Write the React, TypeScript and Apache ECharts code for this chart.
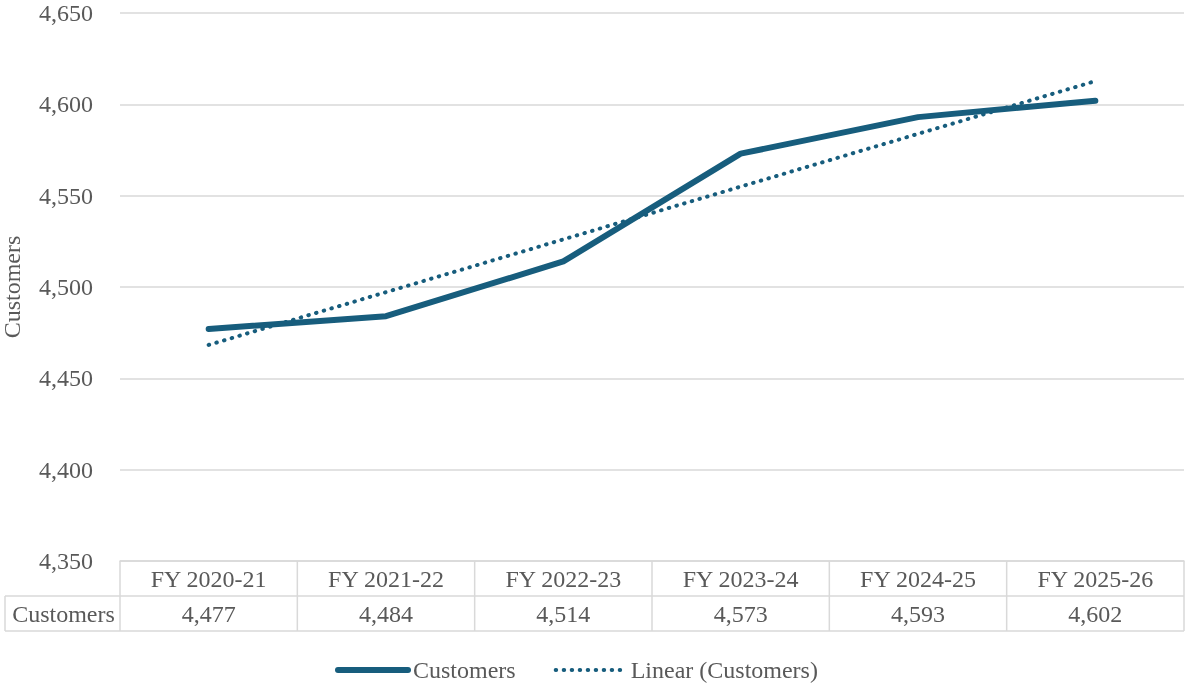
import React, { useEffect, useRef } from "react";
import * as echarts from "echarts";

const categories = ["FY 2020-21", "FY 2021-22", "FY 2022-23", "FY 2023-24", "FY 2024-25", "FY 2025-26"];
const customers = [4477, 4484, 4514, 4573, 4593, 4602];
const seriesName = "Customers";
const trendName = "Linear (Customers)";
const yMin = 4350;
const yMax = 4650;
const yStep = 50;

function linearTrend(vals: number[]): number[] {
  const n = vals.length;
  const mx = (n - 1) / 2;
  const my = vals.reduce((a, b) => a + b, 0) / n;
  let sxy = 0, sxx = 0;
  vals.forEach((v, i) => { sxy += (i - mx) * (v - my); sxx += (i - mx) * (i - mx); });
  const slope = sxy / sxx;
  return vals.map((_, i) => +(my + slope * (i - mx)).toFixed(2));
}

const fmt = (v: number) => v.toLocaleString("en-US");

const W = 1185, H = 686;
const LEFT = 120, RIGHT = 1, TOP = 13, BOTTOM = 125;
const FONT = "'Liberation Serif', 'Times New Roman', serif";
const FS = 24;
const TXT = "#595959";
const BORDER = "#d9d9d9";
const MAIN = "#175d7d";

export default function App() {
  const ref = useRef<HTMLDivElement>(null);
  useEffect(() => {
    if (!ref.current) return;
    const chart = echarts.init(ref.current, undefined, { renderer: "svg" });
    const plotW = W - LEFT - RIGHT;
    const axisY = H - BOTTOM;
    const rowH = 35;
    const colW = plotW / categories.length;
    const graphics: any[] = [];
    const lineStyle = { stroke: BORDER, lineWidth: 1.5 };
    graphics.push({ type: "line", shape: { x1: 5, y1: axisY + rowH, x2: W - RIGHT, y2: axisY + rowH }, style: lineStyle });
    graphics.push({ type: "line", shape: { x1: 5, y1: axisY + 2 * rowH, x2: W - RIGHT, y2: axisY + 2 * rowH }, style: lineStyle });
    graphics.push({ type: "line", shape: { x1: 5, y1: axisY + rowH, x2: 5, y2: axisY + 2 * rowH }, style: lineStyle });
    for (let i = 0; i <= categories.length; i++) {
      const x = LEFT + i * colW;
      graphics.push({ type: "line", shape: { x1: x, y1: axisY, x2: x, y2: axisY + 2 * rowH }, style: lineStyle });
    }
    graphics.push({
      type: "text",
      x: (5 + LEFT) / 2 + 1,
      y: axisY + rowH * 1.5,
      style: { text: seriesName, font: `${FS}px ${FONT}`, fill: TXT, align: "center", verticalAlign: "middle" },
    });

    chart.setOption({
      animation: false,
      textStyle: { fontFamily: FONT },
      grid: { left: LEFT, right: RIGHT, top: TOP, bottom: BOTTOM, containLabel: false, outerBoundsMode: "none" },
      xAxis: {
        type: "category",
        data: categories,
        boundaryGap: true,
        axisLine: { show: true, lineStyle: { color: BORDER, width: 1.5 } },
        axisTick: { show: false },
        axisLabel: {
          margin: 0,
          interval: 0,
          formatter: (v: string, i: number) => `{c|${v}}\n{v|${fmt(customers[i])}}`,
          rich: {
            c: { fontFamily: FONT, fontSize: FS, color: TXT, lineHeight: 35, height: 35 },
            v: { fontFamily: FONT, fontSize: FS, color: TXT, lineHeight: 35, height: 35 },
          },
        },
      },
      yAxis: {
        type: "value",
        min: yMin,
        max: yMax,
        interval: yStep,
        name: seriesName,
        nameLocation: "middle",
        nameGap: 96,
        nameRotate: 90,
        nameTextStyle: { fontFamily: FONT, fontSize: FS, color: TXT },
        axisLine: { show: false },
        axisTick: { show: false },
        axisLabel: { margin: 27, fontFamily: FONT, fontSize: FS, color: TXT, formatter: (v: number) => fmt(v) },
        splitLine: { lineStyle: { color: BORDER, width: 1.5 } },
      },
      legend: {
        top: 653,
        left: 330,
        itemWidth: 70,
        itemHeight: 24,
        itemGap: 38,
        itemStyle: { opacity: 0 },
        textStyle: { fontFamily: FONT, fontSize: FS, color: TXT },
        data: [
          { name: seriesName, lineStyle: { width: 6, cap: "round" } },
          { name: trendName, lineStyle: { width: 4, type: [0.5, 7.5], cap: "round" } },
        ],
      },
      graphic: graphics,
      series: [
        {
          name: seriesName,
          type: "line",
          data: customers,
          symbol: "none",
          lineStyle: { color: MAIN, width: 6, cap: "round", join: "round" },
          itemStyle: { color: MAIN },
          z: 3,
        },
        {
          name: trendName,
          type: "line",
          data: linearTrend(customers),
          symbol: "none",
          lineStyle: { color: MAIN, width: 4, type: [0.5, 7.5], cap: "round" },
          itemStyle: { color: MAIN },
          z: 2,
        },
      ],
    });
    return () => chart.dispose();
  }, []);
  return <div ref={ref} style={{ position: "fixed", left: 0, top: 0, width: W, height: H }} />;
}
